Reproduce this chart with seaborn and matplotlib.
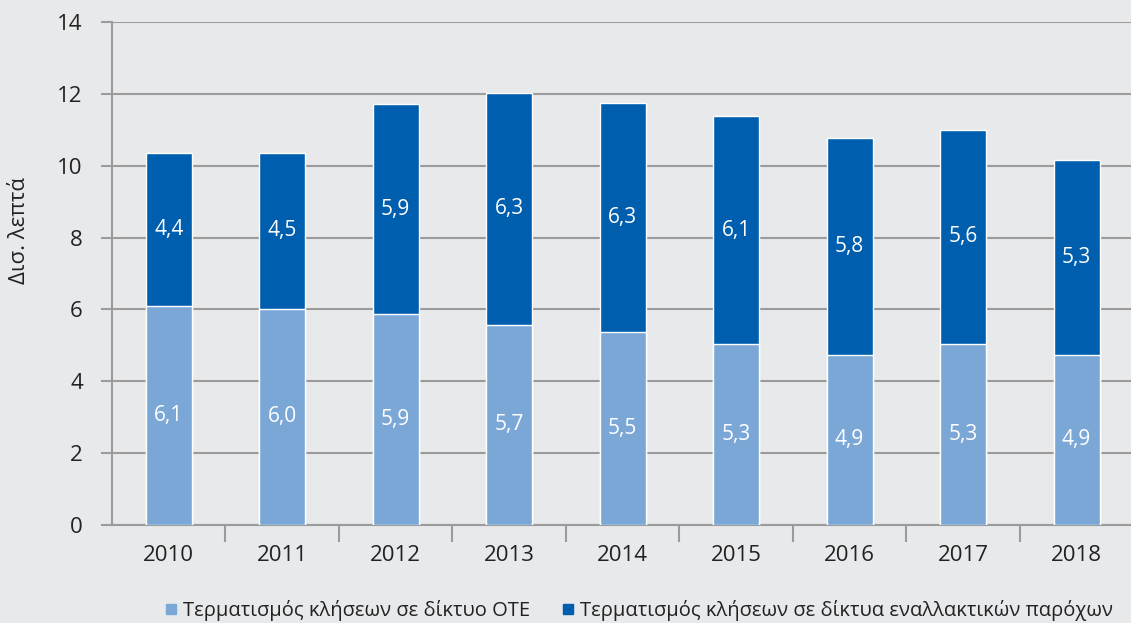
import numpy as np
import pandas as pd
import matplotlib
matplotlib.use("Agg")
import matplotlib.pyplot as plt
from matplotlib.lines import Line2D
import seaborn as sns

# data
years = ["2010", "2011", "2012", "2013", "2014", "2015", "2016", "2017", "2018"]
ote = [6.1, 6.0, 5.86, 5.56, 5.36, 5.03, 4.72, 5.03, 4.72]
alt = [4.27, 4.37, 5.86, 6.48, 6.38, 6.36, 6.05, 5.98, 5.44]
ote_labels = ["6,1", "6,0", "5,9", "5,7", "5,5", "5,3", "4,9", "5,3", "4,9"]
alt_labels = ["4,4", "4,5", "5,9", "6,3", "6,3", "6,1", "5,8", "5,6", "5,3"]
series_names = ["Τερματισμός κλήσεων σε δίκτυο ΟΤΕ",
                "Τερματισμός κλήσεων σε δίκτυα εναλλακτικών παρόχων"]

light = "#7ba7d7"
dark = "#005eae"
bg = "#e8e9eb"
grid = "#9b9b9b"
txt = "#222222"

sns.set_theme(style="white")
plt.rcParams["font.family"] = ["Open Sans", "DejaVu Sans"]

df = pd.DataFrame({"year": years, "ote": ote, "alt": alt})
df["total"] = df["ote"] + df["alt"]

fig = plt.figure(figsize=(11.31, 6.23), dpi=100, facecolor=bg)
ax = fig.add_axes([0.099, 0.158, 0.901, 0.806])
ax.set_facecolor(bg)

sns.barplot(data=df, x="year", y="total", color=dark, width=0.405,
            saturation=1, ax=ax, zorder=3)
sns.barplot(data=df, x="year", y="ote", color=light, width=0.405,
            saturation=1, ax=ax, zorder=3)

for i in range(len(years)):
    ax.text(i, ote[i] / 2, ote_labels[i], ha="center", va="center",
            color="white", fontsize=15, zorder=4)
    ax.text(i, ote[i] + alt[i] / 2, alt_labels[i], ha="center", va="center",
            color="white", fontsize=15, zorder=4)

ax.set_ylim(0, 14)
ax.set_xlim(-0.5, 8.48)
ax.set_yticks(np.arange(0, 15, 2))
ax.yaxis.grid(True, color=grid, linewidth=1.5, zorder=0)
ax.set_axisbelow(True)

for s in ["top", "right"]:
    ax.spines[s].set_visible(False)
for s in ["left", "bottom"]:
    ax.spines[s].set_color(grid)
    ax.spines[s].set_linewidth(1.5)

# y ticks stick out left, x ticks sit between the categories
ax.tick_params(axis="y", length=8, width=1.5, color=grid, labelsize=16,
               labelcolor=txt, pad=13, left=True)
ax.set_xticks(np.arange(len(years)))
ax.set_xticklabels(years)
ax.tick_params(axis="x", length=0, labelsize=16, labelcolor=txt, pad=15)
ax.set_xticks(np.arange(len(years) - 1) + 0.5, minor=True)
ax.tick_params(axis="x", which="minor", length=12, width=1.5, color=grid, bottom=True)

ax.set_xlabel("")
ax.set_ylabel("Δισ. λεπτά", fontsize=16, color=txt)
ax.yaxis.set_label_coords(-0.080, 0.586)

handles = [Line2D([], [], marker="s", linestyle="", color=light, markersize=7),
           Line2D([], [], marker="s", linestyle="", color=dark, markersize=7)]
fig.legend(handles, series_names, loc="center", bbox_to_anchor=(0.565, 0.02),
           ncol=2, frameon=False, fontsize=14.5, handlelength=0.6,
           handletextpad=0.3, columnspacing=1.6, labelcolor=txt)

fig.savefig("out.png", dpi=100, facecolor=bg)
